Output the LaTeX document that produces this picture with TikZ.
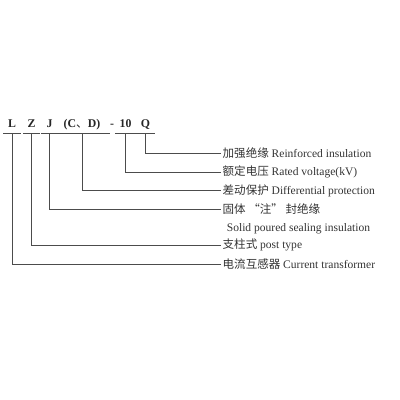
\documentclass[tikz,border=0pt]{standalone}
\usepackage{fontspec}
\setmainfont{Liberation Serif}
\newfontfamily\cjk{Noto Sans CJK SC}
\usetikzlibrary{positioning}

\tikzset{
    code/.style={font=\fontsize{8.4}{9}\selectfont\bfseries, text depth=0pt,
        inner xsep=0pt, inner ysep=3.5pt, anchor=base, text=black!85},
    desc/.style={font=\fontsize{8.2}{9}\selectfont, anchor=west, inner xsep=1pt,
        text=black!80},
    lead/.style={draw=black!70, line width=0.6pt}
}

\begin{document}
\begin{tikzpicture}[x=0.025cm, y=-0.025cm]
\useasboundingbox (0,0) rectangle (400,400);

% model code
\node[code, minimum width=12] (L) at (12,128) {L};
\node[code, minimum width=11] (Z) at (31.5,128) {Z};
\node[code, minimum width=11] (J) at (49.5,128) {J};
\node[code, minimum width=40] (CD) at (82,128) {(C{\cjk\mdseries 、}D)};
\node[code] (dash) at (112,128) {-};
\node[code, minimum width=14] (ten) at (125.5,128) {10};
\node[code, minimum width=13] (Q) at (145.5,128) {Q};

% meanings
\node[desc] (tQ) at (221,153) {{\cjk 加强绝缘} Reinforced insulation};
\node[desc] (tten) at (221,172) {{\cjk 额定电压} Rated voltage(kV)};
\node[desc] (tCD) at (221,190.5) {{\cjk 差动保护} Differential protection};
\node[desc] (tJ) at (221,209) {{\cjk 固体 “注” 封绝缘}};
\node[desc, below=1 of tJ.south west, anchor=north west, xshift=3] (tJb) {Solid poured sealing insulation};
\node[desc] (tZ) at (221,245) {{\cjk 支柱式} post type};
\node[desc] (tL) at (221,264) {{\cjk 电流互感器} Current transformer};

% underlines
\foreach \n in {L,Z,J,CD,ten,Q}
    \draw[lead] (\n.south west) -- (\n.south east);

% leaders
\draw[lead] (Q.south) |- (tQ.west);
\draw[lead] (ten.south) |- (tten.west);
\draw[lead] (CD.south) |- (tCD.west);
\draw[lead] (J.south) |- (tJ.west);
\draw[lead] (Z.south) |- (tZ.west);
\draw[lead] (L.south) |- (tL.west);
\end{tikzpicture}
\end{document}
